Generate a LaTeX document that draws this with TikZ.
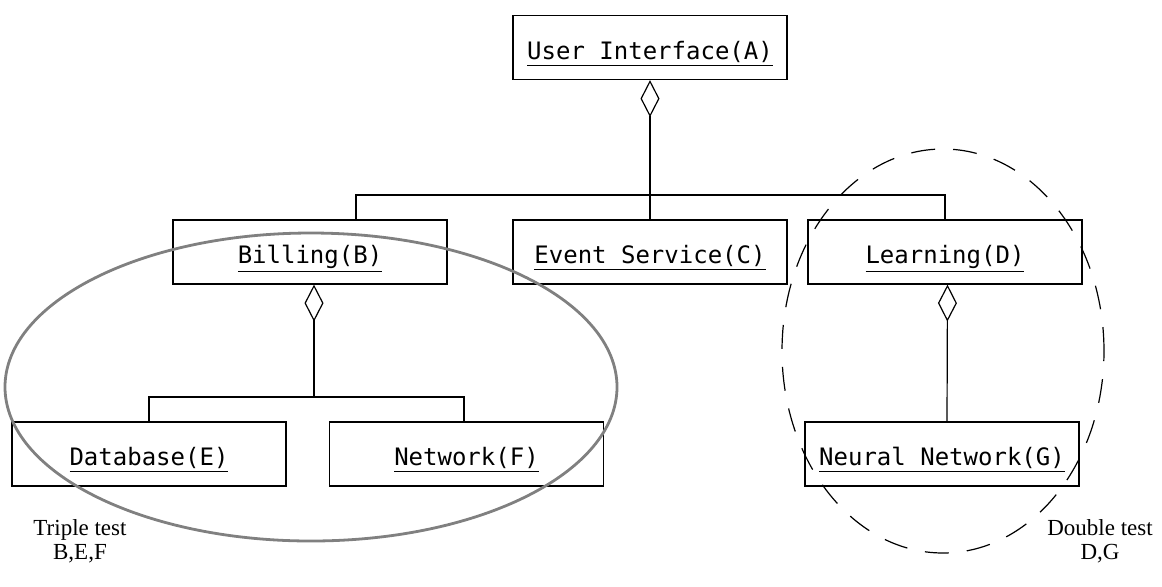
\documentclass[tikz,border=0pt]{standalone}
\usepackage{fontspec}
\setmainfont{Liberation Serif}
\setmonofont{DejaVu Sans Mono}
\usepackage{tikz}
\usetikzlibrary{arrows.meta}
\usetikzlibrary{positioning}
\tikzset{
  modulo/.style={draw, line width=0.6pt, minimum width=137pt, minimum height=32pt, inner sep=0pt, text height=15pt, text depth=3.5pt, font=\fontsize{12}{14}\selectfont\ttfamily},
  agrega/.style={{Diamond[open, length=18.5pt, width=9.5pt, line width=0.6pt]}-, line width=0.6pt},
  ligacao/.style={line width=0.6pt},
  grupo/.style={draw=black!50, line width=1.4pt},
  tracejado/.style={draw, line width=0.6pt, dash pattern=on 12pt off 9pt},
  rotulo/.style={align=center, font=\fontsize{11.5}{12}\selectfont},
}
\newcommand{\nome}[1]{\underline{#1}}

\begin{document}
\begin{tikzpicture}[x=0.5pt, y=-0.5pt]
  \useasboundingbox (0,0) rectangle (1162,586);
  % modulos
  \node[modulo] (A) at (650,47.5) {\nome{User Interface(A)}};
  \node[modulo] (B) at (310,252) {\nome{Billing(B)}};
  \node[modulo] (C) at (650,252) {\nome{Event Service(C)}};
  \node[modulo] (D) at (945,252) {\nome{Learning(D)}};
  \node[modulo] (E) at (149,454) {\nome{Database(E)}};
  \node[modulo] (F) at (466.5,454) {\nome{Network(F)}};
  \node[modulo] (G) at (942,454) {\nome{Neural Network(G)}};
  % agregacoes
  \coordinate (barraA) at (650,195);
  \coordinate (barraB) at (314,397);
  \draw[agrega] (A.south) -- (C.north);
  \draw[ligacao] ([xshift=23pt]B.north) |- (barraA) -| (D.north);
  \draw[agrega] ([xshift=2pt]B.south) -- (barraB);
  \draw[ligacao] (E.north) |- (barraB) -| ([xshift=-1.25pt]F.north);
  \draw[agrega] ([xshift=1.25pt]D.south) -- ([xshift=2.5pt]G.north);
  % grupos de teste
  \draw[grupo] (311,387) ellipse [x radius=153pt, y radius=77pt];
  \draw[tracejado] (943,351) ellipse [x radius=80.5pt, y radius=101pt];
  \node[rotulo] (triplo) at (80,541) {Triple test\\B,E,F};
  \node[rotulo] (duplo) at (1100,541) {Double test\\D,G};
\end{tikzpicture}
\end{document}
